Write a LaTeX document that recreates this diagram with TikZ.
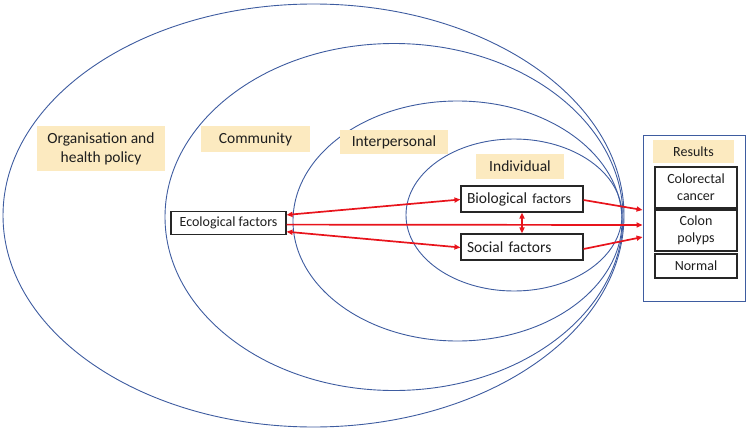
\documentclass[tikz,border=0pt]{standalone}
\usepackage{fontspec}
\setmainfont{Carlito}
\usetikzlibrary{arrows.meta}
\definecolor{ringblue}{RGB}{62,92,160}
\definecolor{labelfill}{RGB}{252,234,192}
\definecolor{arrowred}{RGB}{232,20,28}
\definecolor{txt}{RGB}{30,30,30}
\tikzset{
  ring/.style={draw=ringblue, line width=0.9pt},
  lvl/.style={fill=labelfill, text=txt, inner sep=0pt, align=center, font=\fontsize{15.5}{19}\selectfont},
  fbox/.style={draw=black!85, line width=1.1pt, fill=white, text=txt, inner sep=0pt, align=center},
  rbox/.style={fbox, minimum width=82pt, font=\fontsize{14}{17}\selectfont},
  link/.style={draw=arrowred, line width=1.7pt},
  tip/.style={-{Triangle[length=6pt,width=5pt]}},
  tips/.style={{Triangle[length=6pt,width=5pt]}-{Triangle[length=6pt,width=5pt]}}
}
\begin{document}
\begin{tikzpicture}[x=1pt,y=-1pt]
\useasboundingbox (0,0) rectangle (750,431);
% rings
\draw[ring] (313.5,215.5) ellipse [x radius=310.5pt, y radius=211.5pt];
\draw[ring] (394,217) ellipse [x radius=229pt, y radius=173.5pt];
\draw[ring] (457.5,221) ellipse [x radius=164.5pt, y radius=120pt];
\draw[ring] (514,215) ellipse [x radius=108pt, y radius=76pt];
% level labels
\node[lvl, minimum width=128pt, minimum height=45pt] (org) at (101,148.5) {Organisation and\\health policy};
\node[lvl, minimum width=109pt, minimum height=26pt] (com) at (255.5,139) {Community};
\node[lvl, minimum width=108pt, minimum height=24pt] (inter) at (394,142) {Interpersonal};
\node[lvl, minimum width=88pt, minimum height=25pt] (indiv) at (520,166.5) {Individual};
% factor boxes
\node[fbox, minimum width=115pt, minimum height=23pt, font=\fontsize{14}{17}\selectfont] (eco) at (228.5,222.7) {Ecological factors};
\node[fbox, text width=110pt, inner xsep=6pt, align=left, minimum height=26pt, font=\fontsize{15.5}{18}\selectfont] (bio) at (522,199) {Biological {\fontsize{14}{17}\selectfont factors}};
\node[fbox, text width=110pt, inner xsep=6pt, align=left, minimum height=26pt, font=\fontsize{15.5}{18}\selectfont] (soc) at (522,247) {Social factors};
% results
\node[draw=ringblue, line width=0.9pt, minimum width=102pt, minimum height=166pt, inner sep=0pt] (res) at (694,218) {};
\node[lvl, minimum width=81pt, minimum height=23pt, font=\fontsize{14}{17}\selectfont] (reslab) at (693.5,151.5) {Results};
\node[rbox, minimum height=41pt] (crc) at (696,187.5) {Colorectal\\cancer};
\node[rbox, minimum height=41pt] (polyp) at (696,230.5) {Colon\\polyps};
\node[rbox, minimum height=24pt] (normal) at (696,266) {Normal};
% connectors
\draw[link, tips] ([yshift=7.8pt]eco.east) -- ([yshift=-0.5pt]bio.west);
\draw[link, tip] ([yshift=-1.9pt]eco.east) -- ([yshift=-7pt]res.west);
\draw[link, tips] ([yshift=-9pt]eco.east) -- ([yshift=-0.5pt]soc.west);
\draw[link, tips] (bio.south) -- (soc.north);
\draw[link, tip] ([yshift=-1pt]bio.east) -- ([yshift=8pt]res.west);
\draw[link, tip] ([yshift=-2pt]soc.east) -- ([yshift=-19pt]res.west);
\end{tikzpicture}
\end{document}
